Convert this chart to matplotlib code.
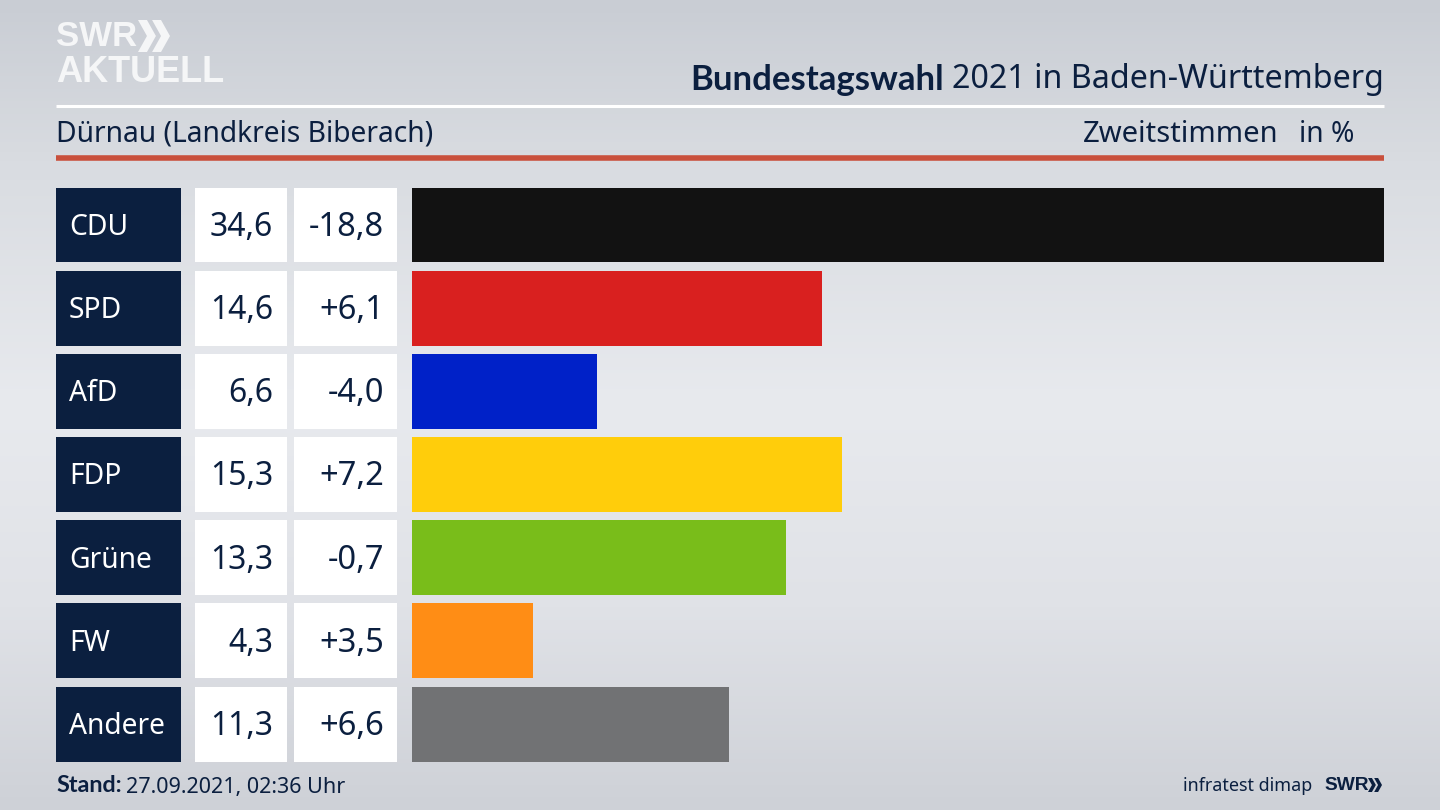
import numpy as np
import matplotlib.pyplot as plt
from matplotlib.colors import LinearSegmentedColormap
from matplotlib.patches import Polygon

parties = ["CDU", "SPD", "AfD", "FDP", "Grüne", "FW", "Andere"]
shares = [34.6, 14.6, 6.6, 15.3, 13.3, 4.3, 11.3]
changes = ["-18,8", "+6,1", "-4,0", "+7,2", "-0,7", "+3,5", "+6,6"]
bar_colors = ["#121212", "#d9201f", "#0021c8", "#ffcd0b", "#79bd1a", "#ff8d15", "#717274"]

W, H = 1440, 810
NAVY = "#0b1f3f"
BOLD = ['Lato', 'DejaVu Sans']
LOGO = ['Liberation Sans', 'DejaVu Sans']
plt.rcParams['font.family'] = ['Noto Sans', 'DejaVu Sans']

fig = plt.figure(figsize=(14.4, 8.1), dpi=100)

# background and header, in pixel coordinates
bg = fig.add_axes([0, 0, 1, 1])
bg.set_xlim(0, W)
bg.set_ylim(H, 0)
bg.axis('off')
cmap = LinearSegmentedColormap.from_list("bg", [(0, "#c9cdd4"), (0.2, "#d9dce1"), (0.5, "#e8eaee"),
                                                (0.75, "#e0e2e7"), (1, "#ced1d7")])
bg.imshow(np.linspace(0, 1, 256).reshape(-1, 1), cmap=cmap, extent=[0, W, H, 0], aspect='auto', zorder=0)

bg.plot([56, 1384], [105.5, 105.5], color="white", lw=2.2, solid_capstyle='butt')
bg.plot([56, 1384], [157.5, 157.5], color="#c9503c", lw=4, solid_capstyle='butt')


def chevrons(x, y, h, color):
    w = h * 0.28
    t = h * 0.28
    for dx in (0, h * 0.44):
        bg.add_patch(Polygon([(x + dx, y), (x + dx + t, y), (x + dx + t + w, y + h / 2),
                              (x + dx + t, y + h), (x + dx, y + h), (x + dx + w, y + h / 2)],
                             closed=True, fc=color, ec='none'))


# SWR Aktuell logo
bg.text(56, 36, "SWR", color="#f5f6f7", fontsize=25, family=LOGO, fontweight='bold', va='center', ha='left')
chevrons(138, 20, 32, "#f5f6f7")
bg.text(56, 73, "AKTUELL", color="#f5f6f7", fontsize=26, family=LOGO, fontweight='bold', va='center', ha='left')

bg.text(944, 80, "Bundestagswahl", color=NAVY, fontsize=25, family=BOLD, fontweight='bold', va='center', ha='right')
bg.text(952, 80, "2021 in Baden-Württemberg", color=NAVY, fontsize=23.2, va='center', ha='left')
bg.text(56, 134, "Dürnau (Landkreis Biberach)", color=NAVY, fontsize=20.3, va='center', ha='left')
bg.text(1278, 134, "Zweitstimmen", color=NAVY, fontsize=21, va='center', ha='right')
bg.text(1354, 134, "in %", color=NAVY, fontsize=20.3, va='center', ha='right')

# footer
bg.text(56, 786, "Stand:", color=NAVY, fontsize=16.8, family=BOLD, fontweight='bold', va='center', ha='left')
bg.text(126, 787, "27.09.2021, 02:36 Uhr", color=NAVY, fontsize=15.5, va='center', ha='left')
bg.text(1312, 786, "infratest dimap", color=NAVY, fontsize=12.9, va='center', ha='right')
bg.text(1324, 785, "SWR", color=NAVY, fontsize=13.8, family=LOGO, fontweight='bold', va='center', ha='left')
chevrons(1368, 778, 14, NAVY)

# table cells, x in pixels, y in rows
y = np.arange(len(parties))
top = 187.5
bottom = 761.5
tab = fig.add_axes([0, (H - bottom) / H, 1, (bottom - top) / H])
tab.set_xlim(0, W)
tab.set_ylim(6.45, -0.45)
tab.axis('off')
tab.patch.set_alpha(0)
tab.barh(y, 125, left=56, height=0.9, color=NAVY)
tab.barh(y, 92, left=195, height=0.9, color="white")
tab.barh(y, 103, left=294, height=0.9, color="white")
for i, party in enumerate(parties):
    tab.text(69, i + 0.03, party, color="white", fontsize=20.3, va='center', ha='left')
    tab.text(273, i + 0.03, f"{shares[i]:.1f}".replace(".", ","), color=NAVY, fontsize=23, va='center', ha='right')
    tab.text(384, i + 0.03, changes[i], color=NAVY, fontsize=23.5, va='center', ha='right')

# result bars
ax = fig.add_axes([412 / W, (H - bottom) / H, (1384 - 412) / W, (bottom - top) / H])
ax.barh(y, shares, height=0.9, color=bar_colors)
ax.set_xlim(0, max(shares))
ax.set_ylim(6.45, -0.45)
ax.axis('off')
ax.patch.set_alpha(0)

fig.savefig("out.png", dpi=100)
